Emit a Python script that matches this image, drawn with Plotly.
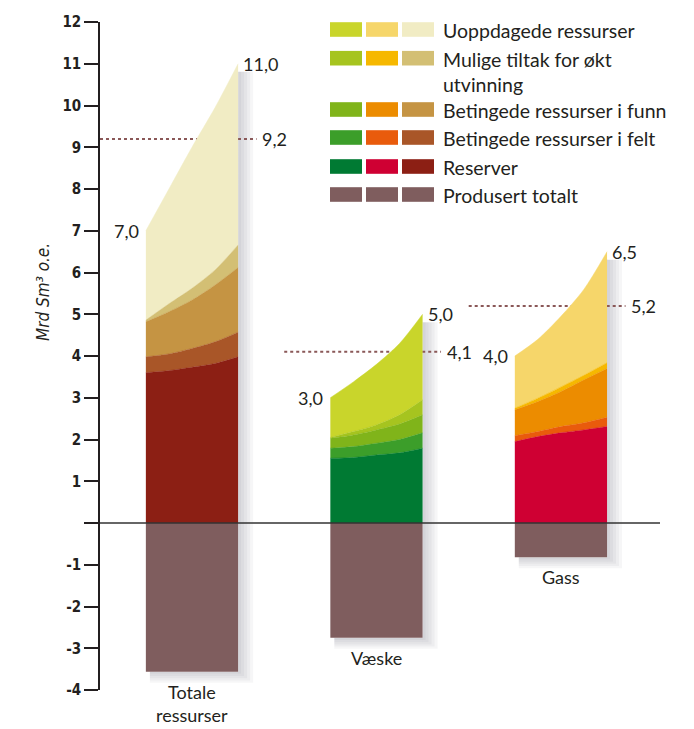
import plotly.graph_objects as go

# Resource columns (left edge = low estimate, right edge = high estimate)
columns = ["Totale<br>ressurser", "Væske", "Gass"]
low_total = [7.0, 3.0, 4.0]
expected_total = [9.2, 4.1, 5.2]
high_total = [11.0, 5.0, 6.5]
produced = [-3.56, -2.75, -0.82]

# Upper edge of each layer across the column width (5 samples, left -> right)
reserver = [
    [3.60, 3.65, 3.73, 3.82, 3.98],
    [1.55, 1.57, 1.63, 1.68, 1.79],
    [1.95, 2.07, 2.16, 2.23, 2.31],
]
betinget_felt = [
    [3.98, 4.05, 4.18, 4.34, 4.57],
    [1.79, 1.83, 1.91, 2.00, 2.16],
    [2.09, 2.19, 2.31, 2.40, 2.53],
]
betinget_funn = [
    [4.82, 5.06, 5.34, 5.70, 6.12],
    [2.03, 2.11, 2.23, 2.37, 2.59],
    [2.71, 2.91, 3.15, 3.43, 3.70],
]
mulige_tiltak = [
    [4.86, 5.25, 5.62, 6.06, 6.66],
    [2.05, 2.19, 2.35, 2.59, 2.95],
    [2.75, 2.99, 3.26, 3.54, 3.84],
]
# interior samples of the top curve; the ends are the low / high totals
uoppdaget_mid = [
    [8.00, 9.00, 9.95],
    [3.38, 3.80, 4.30],
    [4.40, 4.95, 5.60],
]

legend_labels = [
    "Uoppdagede ressurser",
    "Mulige tiltak for økt<br>utvinning",
    "Betingede ressurser i funn",
    "Betingede ressurser i felt",
    "Reserver",
    "Produsert totalt",
]
# colours per column: Totale, Væske, Gass
colors = {
    "uoppdaget": ["#f1ecc4", "#c9d52b", "#f6d66a"],
    "mulige": ["#d3bf74", "#a6c41f", "#f6b800"],
    "funn": ["#c59443", "#80b41a", "#ec8c00"],
    "felt": ["#a95628", "#3c9e2a", "#e95b0c"],
    "reserver": ["#8c1f14", "#007a33", "#cf0033"],
    "produsert": ["#7f5d5e", "#7f5d5e", "#7f5d5e"],
}
legend_order = ["uoppdaget", "mulige", "funn", "felt", "reserver", "produsert"]

HALF = 0.25
offsets = [-HALF, -HALF / 2, 0.0, HALF / 2, HALF]
X_RANGE = [-0.4986, 2.537]
PX_X = 560 / (X_RANGE[1] - X_RANGE[0])
PX_Y = 668 / 16.0
TEXT = "#231f20"
FONT = "Lato"

fig = go.Figure()

for i in range(3):
    xs = [i + o for o in offsets]
    top = [low_total[i]] + uoppdaget_mid[i] + [high_total[i]]
    layers = [
        (reserver[i], colors["reserver"][i], "tozeroy"),
        (betinget_felt[i], colors["felt"][i], "tonexty"),
        (betinget_funn[i], colors["funn"][i], "tonexty"),
        (mulige_tiltak[i], colors["mulige"][i], "tonexty"),
        (top, colors["uoppdaget"][i], "tonexty"),
    ]
    for ys, col, fill in layers:
        fig.add_trace(go.Scatter(
            x=xs, y=ys, mode="lines", fill=fill, fillcolor=col,
            line=dict(color=col, width=0.5, shape="spline", smoothing=0.8),
            hoverinfo="skip", showlegend=False,
        ))

# produced volumes below zero
fig.add_trace(go.Bar(
    x=[0, 1, 2], y=produced, width=2 * HALF, base=0,
    marker=dict(color=colors["produsert"], line=dict(width=0)),
    hoverinfo="skip", showlegend=False,
))

shapes = []
annotations = []

# soft drop shadows to the right of and below each column
for i in range(3):
    right = i + HALF
    left = i - HALF
    for k in range(1, 6):
        w = 3 * k / PX_X
        d = 2.2 * k / PX_Y
        shapes.append(dict(
            type="rect", xref="x", yref="y", layer="below",
            x0=right, x1=right + w, y0=produced[i] - d, y1=high_total[i] - 8 / PX_Y,
            fillcolor="#4a4a5e", opacity=0.05, line=dict(width=0),
        ))
        shapes.append(dict(
            type="rect", xref="x", yref="y", layer="below",
            x0=left + 4 / PX_X, x1=right, y0=produced[i] - d, y1=produced[i],
            fillcolor="#4a4a5e", opacity=0.05, line=dict(width=0),
        ))

# expected-value reference lines (dotted), passing behind the columns
for i in range(3):
    shapes.append(dict(
        type="line", xref="x", yref="y", layer="below",
        x0=max(i - 0.5, X_RANGE[0]), x1=i + 0.35, y0=expected_total[i], y1=expected_total[i],
        line=dict(color="#8a5858", width=2, dash="dot"),
    ))


def fmt(v):
    return f"{v:.1f}".replace(".", ",")


for i in range(3):
    annotations.append(dict(
        x=i - HALF - 5 / PX_X, y=low_total[i], xref="x", yref="y",
        text=fmt(low_total[i]), showarrow=False, xanchor="right", yanchor="middle",
        font=dict(size=18, color=TEXT, family=FONT),
    ))
    annotations.append(dict(
        x=i + HALF + 3 / PX_X, y=high_total[i], xref="x", yref="y",
        text=fmt(high_total[i]), showarrow=False, xanchor="left", yanchor="middle",
        font=dict(size=18, color=TEXT, family=FONT),
    ))
    annotations.append(dict(
        x=i + 0.37, y=expected_total[i], xref="x", yref="y",
        text=fmt(expected_total[i]), showarrow=False, xanchor="left", yanchor="middle",
        font=dict(size=18, color=TEXT, family=FONT),
    ))
    annotations.append(dict(
        x=i, y=produced[i], xref="x", yref="y", yshift=-7,
        text=columns[i], showarrow=False, xanchor="center", yanchor="top",
        font=dict(size=18, color=TEXT, family=FONT),
    ))

# zero line across the plot, drawn over the columns
shapes.append(dict(
    type="line", xref="x", yref="y", layer="above",
    x0=X_RANGE[0], x1=X_RANGE[1], y0=0, y1=0,
    line=dict(color="#333333", width=1.5),
))

# legend: three swatches per row (Væske, Gass, Totale) + label
def px_to_paper_x(px):
    return (px - 100) / 560


def px_to_paper_y(py):
    return (690 - py) / 668


row_centers = [29.5, 58.2, 109.5, 137.5, 166.5, 194.5]
swatch_x = [330, 366, 402]
swatch_order = [1, 2, 0]
for r, key in enumerate(legend_order):
    yc = row_centers[r]
    for s, col_idx in enumerate(swatch_order):
        shapes.append(dict(
            type="rect", xref="paper", yref="paper",
            x0=px_to_paper_x(swatch_x[s]), x1=px_to_paper_x(swatch_x[s] + 32),
            y0=px_to_paper_y(yc + 7.3), y1=px_to_paper_y(yc - 7.3),
            fillcolor=colors[key][col_idx], line=dict(width=0),
        ))
    annotations.append(dict(
        x=px_to_paper_x(441), y=px_to_paper_y(yc - 12.5), xref="paper", yref="paper",
        text=legend_labels[r], showarrow=False, xanchor="left", yanchor="top", align="left",
        font=dict(size=19.5, color=TEXT, family=FONT),
    ))

# y-axis title
annotations.append(dict(
    x=px_to_paper_x(43), y=px_to_paper_y(292), xref="paper", yref="paper",
    text="<i>Mrd Sm³ o.e.</i>", showarrow=False, textangle=-90,
    xanchor="center", yanchor="middle",
    font=dict(size=17, color=TEXT, family="DejaVu Sans Condensed"),
))

tick_vals = list(range(-4, 13))
tick_text = ["" if v == 0 else str(v) for v in tick_vals]

fig.update_layout(
    width=694, height=729,
    margin=dict(l=100, r=34, t=22, b=39),
    paper_bgcolor="white", plot_bgcolor="white",
    showlegend=False, hovermode=False,
    shapes=shapes, annotations=annotations,
    xaxis=dict(range=X_RANGE, visible=False, fixedrange=True),
    yaxis=dict(
        range=[-4, 12], tickvals=tick_vals, ticktext=tick_text,
        showgrid=False, zeroline=False, showline=True,
        linecolor="#231f20", linewidth=1.5,
        ticks="outside", ticklen=14, tickwidth=1.5, tickcolor="#231f20",
        tickfont=dict(size=15, color=TEXT, family="DejaVu Sans Condensed", weight="bold"),
        fixedrange=True,
    ),
)

fig.write_html("out.html")
